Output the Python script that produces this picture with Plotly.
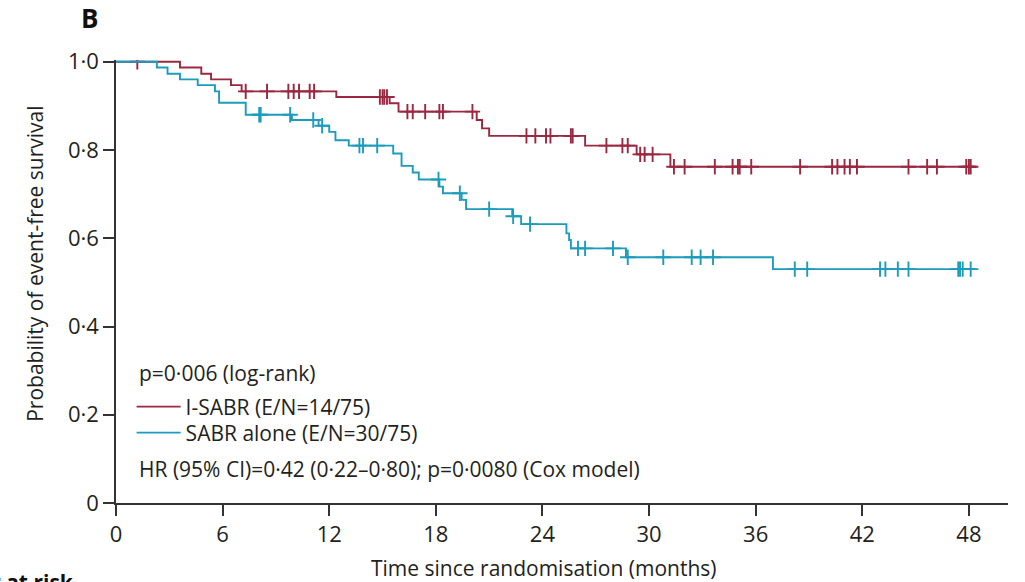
import numpy as np
import plotly.graph_objects as go

# ---------------- data ----------------
red_name = "I-SABR (E/N=14/75)"
red_times = [0, 3.6, 4.8, 5.35, 6.47, 7.07, 12.4, 15.4, 15.9, 20.3, 20.6, 21.0, 26.4, 29.3, 31.2]
red_surv = [1.0, 0.987, 0.973, 0.960, 0.947, 0.933, 0.920, 0.906, 0.887, 0.868, 0.849, 0.832, 0.810, 0.790, 0.762]
red_end = 48.4
red_censor = [1.2, 7.3, 8.5, 9.7, 10.0, 10.3, 10.9, 11.15, 14.85, 15.0, 15.1, 15.25, 16.4, 16.7,
              17.4, 18.2, 18.4, 20.06, 23.1, 23.6, 24.2, 24.45, 25.6, 25.7, 27.6, 28.5, 28.8,
              29.5, 29.75, 30.2, 31.4, 32.0, 33.7, 34.7, 35.0, 35.1, 35.75, 38.5, 40.3, 40.6,
              41.0, 41.3, 41.7, 44.6, 45.65, 46.2, 47.85, 48.0, 48.1]

blue_name = "SABR alone (E/N=30/75)"
blue_times = [0, 2.3, 2.9, 3.6, 4.6, 5.57, 5.8, 7.3, 9.9, 11.4, 12.0, 12.35, 13.1, 15.6, 16.07,
              16.7, 17.04, 18.2, 18.4, 19.45, 19.7, 22.3, 22.8, 25.35, 25.5, 25.6, 28.7, 36.97]
blue_surv = [1.0, 0.987, 0.973, 0.960, 0.947, 0.933, 0.907, 0.880, 0.868, 0.855, 0.841, 0.822,
             0.810, 0.792, 0.764, 0.749, 0.733, 0.717, 0.702, 0.687, 0.666, 0.650, 0.632, 0.611,
             0.596, 0.577, 0.557, 0.530]
blue_end = 48.4
blue_censor = [8.06, 8.14, 9.8, 11.1, 11.6, 13.7, 13.9, 14.7, 18.15, 19.35, 21.0, 22.35, 23.3,
               26.0, 26.4, 27.97, 28.8, 30.8, 32.4, 32.9, 33.6, 38.2, 38.9, 43.0, 43.3, 44.0,
               44.6, 47.4, 47.5, 47.65, 48.1]

x_ticks = [0, 6, 12, 18, 24, 30, 36, 42, 48]
y_ticks = [0, 0.2, 0.4, 0.6, 0.8, 1.0]
y_ticktext = ["0", "0·2", "0·4", "0·6", "0·8", "1·0"]

RED = "#9B2740"
BLUE = "#1C9CBC"
AXIS = "#333333"
TEXTC = "#231F20"
FONT = "Open Sans"
TXT = 21
TICK = 22
LW = 1.9

fig = go.Figure()


def add_curve(times, surv, end, censor, color, name, legend):
    xs = list(times) + [end]
    ys = list(surv) + [surv[-1]]
    fig.add_trace(go.Scatter(x=xs, y=ys, mode="lines", line=dict(color=color, width=LW, shape="hv"),
                             name=name, showlegend=True, legend=legend, hoverinfo="skip"))
    t = np.array(times)
    idx = np.searchsorted(t, np.array(censor), side="right") - 1
    cy = np.array(surv)[idx]
    fig.add_trace(go.Scatter(x=censor, y=cy, mode="markers",
                             marker=dict(symbol="cross-thin", size=11, line=dict(color=color, width=LW)),
                             showlegend=False, hoverinfo="skip"))


add_curve(red_times, red_surv, red_end, red_censor, RED, red_name, "legend")
add_curve(blue_times, blue_surv, blue_end, blue_censor, BLUE, blue_name, "legend2")

leg_common = dict(xanchor="left", yanchor="middle", bgcolor="rgba(0,0,0,0)",
                  font=dict(size=TXT, color=TEXTC), itemwidth=44, tracegroupgap=0)

fig.update_layout(
    width=1025, height=582,
    margin=dict(l=116, r=17, t=60, b=79),
    paper_bgcolor="white", plot_bgcolor="white",
    font=dict(family=FONT, size=TXT, color=TEXTC),
    showlegend=True,
    legend=dict(x=0.0175, y=(503 - 407) / 443, **leg_common),
    legend2=dict(x=0.0175, y=(503 - 433) / 443, **leg_common),
    xaxis=dict(range=[0, 50.2], tickvals=x_ticks, ticks="outside", ticklen=11, tickwidth=1.5,
               tickcolor=AXIS, showline=True, linecolor=AXIS, linewidth=1.5, showgrid=False,
               zeroline=False, tickfont=dict(size=TICK)),
    yaxis=dict(range=[0, 1.004], tickvals=y_ticks, ticktext=y_ticktext, ticks="outside",
               ticklen=11, tickwidth=1.5, tickcolor=AXIS, showline=True, linecolor=AXIS,
               linewidth=1.5, showgrid=False, zeroline=False, tickfont=dict(size=TICK)),
)

ann = [
    dict(text="<b>B</b>", x=-0.041, y=1.14, xanchor="left", yanchor="top", font=dict(size=26, color="#111")),
    dict(text="Probability of event-free survival", x=-0.0908, y=0.54, textangle=-90,
         xanchor="center", yanchor="middle", font=dict(size=TXT)),
    dict(text="Time since randomisation (months)", x=0.48, y=-0.146, xanchor="center",
         yanchor="middle", font=dict(size=TXT)),
    dict(text="p=0·006 (log-rank)", x=0.0235, y=(503 - 373) / 443, xanchor="left", yanchor="middle",
         font=dict(size=TXT)),
    dict(text="HR (95% CI)=0·42 (0·22–0·80); p=0·0080 (Cox model)", x=0.0235, y=(503 - 469) / 443,
         xanchor="left", yanchor="middle", font=dict(size=TXT)),
    dict(text="<b>Number at risk</b>", x=-0.0445, y=-0.142, xanchor="right", yanchor="top",
         font=dict(size=TXT, color="#111")),
]
for a in ann:
    a.update(xref="paper", yref="paper", showarrow=False)
    fig.add_annotation(**a)

fig.write_html("out.html")
